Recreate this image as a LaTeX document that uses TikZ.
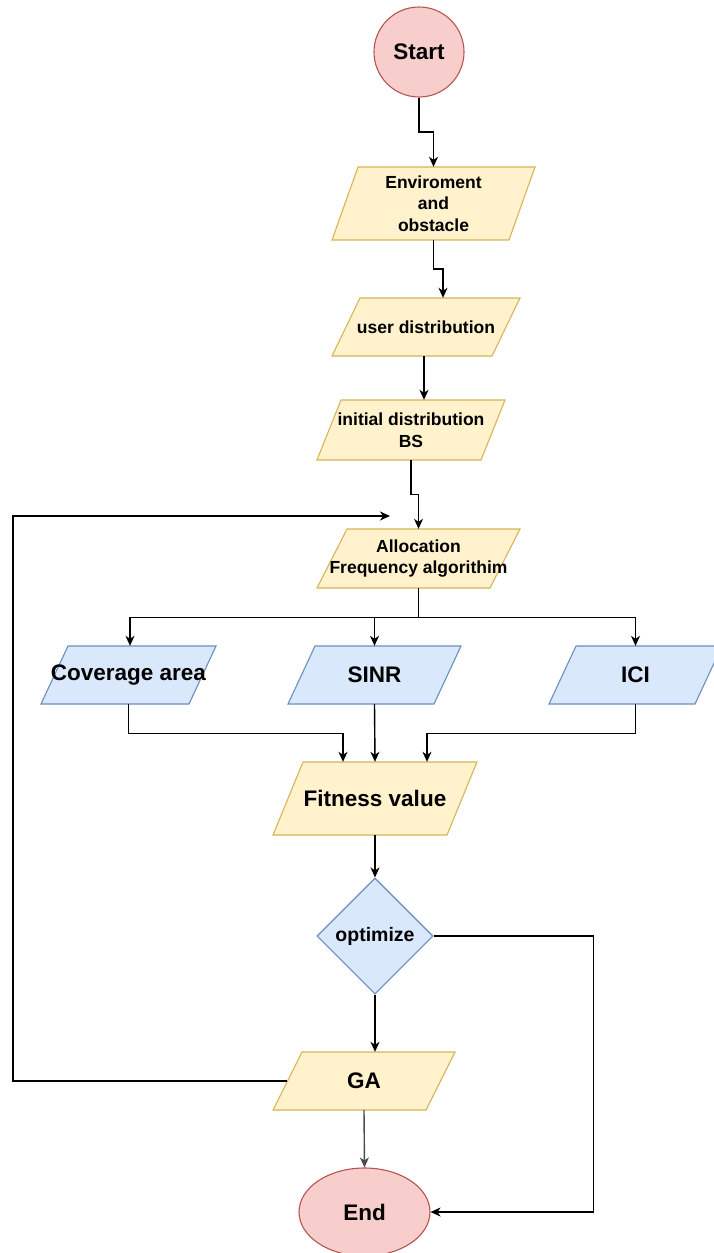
\documentclass[tikz,border=0pt]{standalone}
\usepackage{fontspec}
\setmainfont{Liberation Sans}
\usetikzlibrary{shapes.geometric,arrows.meta,calc}
\definecolor{yfill}{HTML}{FFF2CC}
\definecolor{ydraw}{HTML}{D6B656}
\definecolor{bfill}{HTML}{DAE8FC}
\definecolor{bdraw}{HTML}{6C8EBF}
\definecolor{rfill}{HTML}{F8CECC}
\definecolor{rdraw}{HTML}{B85450}
% #1 name, #2 cx, #3 cy, #4 mid width, #5 height, #6 skew, #7 shape style, #8 font style, #9 text
\newcommand{\parl}[9]{%
  \draw[#7] ({#2-#4/2-#6/2},{#3+#5/2}) -- ({#2+#4/2-#6/2},{#3+#5/2})
     -- ({#2+#4/2+#6/2},{#3-#5/2}) -- ({#2-#4/2+#6/2},{#3-#5/2}) -- cycle;
  \node[txt,#8,minimum width=#4pt,minimum height=#5pt] (#1) at (#2,#3) {#9};}
\begin{document}
\begin{tikzpicture}[x=1pt,y=-1pt,
  yel/.style={fill=yfill,draw=ydraw,line width=1.1pt},
  blu/.style={fill=bfill,draw=bdraw,line width=1.1pt},
  redshape/.style={fill=rfill,draw=rdraw,line width=1.1pt},
  txt/.style={align=center,inner sep=0pt},
  small/.style={font=\fontsize{17.5}{21.5}\selectfont\bfseries},
  big/.style={font=\fontsize{22.5}{27}\selectfont\bfseries},
  arr/.style={-{Stealth[length=10pt,width=9pt,inset=3pt]},line width=1.4pt},
  plain/.style={line width=1.4pt}]
\fill[white] (0,0) rectangle (713,1253);
\useasboundingbox (0,0) rectangle (713,1253);

\node[circle,redshape,minimum size=90pt,inner sep=0pt,big] (start) at (419,52) {Start};
\parl{env}{433.5}{203.5}{177}{73}{26}{yel}{small}{Enviroment\\and\\obstacle}
\parl{user}{426}{327}{160}{58}{28}{yel}{small}{user distribution}
\parl{init}{411}{430}{164}{60}{24}{yel}{small}{initial distribution\\BS}
\parl{alloc}{418.5}{558.5}{173}{59}{30}{yel}{small}{Allocation\\Frequency algorithim}
\parl{cov}{128.5}{675}{148}{58}{27}{blu}{big}{Coverage area}
\parl{sinr}{374.5}{675}{146}{58}{27}{blu}{big}{SINR}
\parl{ici}{635.5}{675}{146}{58}{27}{blu}{big}{ICI}
\parl{fit}{375}{798.5}{174}{73}{30}{yel}{big}{Fitness value}
\node[diamond,blu,minimum width=116pt,minimum height=116pt,inner sep=0pt,
  font=\fontsize{19.5}{23}\selectfont\bfseries] (opt) at (375,936) {optimize};
\parl{ga}{364}{1081}{153}{58}{29}{yel}{big}{GA}
\node[ellipse,redshape,minimum width=131pt,minimum height=88pt,inner sep=0pt,big] (end) at (364.5,1212) {End};

\coordinate (lc) at (13,516);
\coordinate (le) at (390,516);

\draw[arr] (start.south) |- ($(start.south)!.5!(env.north)$) -| (env.north);
\draw[arr] (env.south) |- ($(env.south)!.5!([xshift=17pt]user.north)$) -| ([xshift=17pt]user.north);
\draw[arr] ([xshift=-2pt]user.south) -- ([xshift=-2pt]user.south |- init.north);
\draw[arr] (init.south) |- ($(init.south)!.5!(alloc.north)$) -| (alloc.north);
\draw[plain] (alloc.south) -- ++(0,29) coordinate (br);
\draw[arr] (br) -| ([xshift=1.5pt]cov.north);
\draw[arr] (br) -| (ici.north);
\draw[arr] (br -| sinr.north) -- (sinr.north);
\draw[arr] (cov.south) -- ++(0,29) -| ([xshift=-32pt]fit.north);
\draw[arr] (sinr.south) -- (fit.north);
\draw[arr] (ici.south) -- ++(0,29) -| ([xshift=52pt]fit.north);
\draw[arr] (fit.south) -- (opt.north);
\draw[arr] (opt.south) -- (opt.south |- ga.north);
\draw[arr] (opt.east) -- ++(160,0) |- (end.east);
\draw[arr,draw=black!70] (ga.south) -- (end.north);
\draw[arr] (ga.west) -| (lc) -- (le);
\end{tikzpicture}
\end{document}
